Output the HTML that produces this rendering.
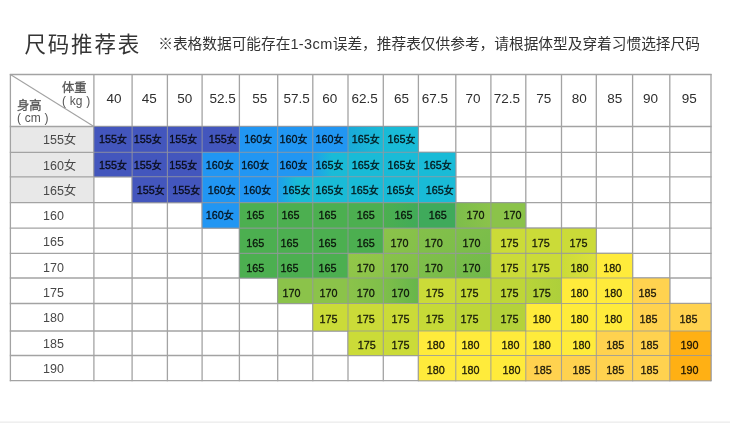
<!DOCTYPE html>
<html lang="zh-CN"><head><meta charset="utf-8"><title>尺码推荐表</title>
<style>
html,body{margin:0;padding:0;background:#fff;}
body{width:730px;height:423px;position:relative;overflow:hidden;font-family:"Liberation Sans","Noto Sans CJK SC",sans-serif;}
.title{position:absolute;left:24.5px;top:27.7px;font-size:21.5px;letter-spacing:1.8px;line-height:34px;color:#353535;white-space:nowrap;}
.sub{position:absolute;left:158.2px;top:32px;font-size:14.7px;line-height:24px;color:#333;white-space:nowrap;}
svg{position:absolute;left:0;top:0;}
.c{position:absolute;text-align:center;font-size:11.6px;transform:scaleX(0.93);color:rgba(0,0,0,.82);-webkit-text-stroke:0.35px rgba(0,0,0,.82);white-space:nowrap;}
.n{font-size:10.7px;}
.h{position:absolute;text-align:center;font-size:13.5px;color:#2e2e2e;white-space:nowrap;}
.r{position:absolute;text-align:left;font-size:12.5px;color:#484848;white-space:nowrap;}
.lab{position:absolute;font-size:12.3px;line-height:13px;color:#555;white-space:nowrap;}
</style></head><body>
<div class="title">尺码推荐表</div>
<div class="sub">※表格数据可能存在<span style="letter-spacing:0.4px;font-size:14.5px">1-3cm</span>误差，推荐表仅供参考，请根据体型及穿着习惯选择尺码</div>

<svg width="730" height="423" viewBox="0 0 730 423"><defs>
<linearGradient id="g0" x1="0" y1="0" x2="0.55" y2="0"><stop offset="0" stop-color="#1e9fec"/><stop offset="1" stop-color="#19bbd7"/></linearGradient>
<linearGradient id="g1" x1="0" y1="0" x2="1" y2="0"><stop offset="0" stop-color="#cbdb38"/><stop offset="1" stop-color="#dce13a"/></linearGradient>
<linearGradient id="g2" x1="0" y1="0" x2="1" y2="0"><stop offset="0" stop-color="#1aa9d8"/><stop offset="1" stop-color="#19bbd7"/></linearGradient>
<linearGradient id="g3" x1="0" y1="0" x2="1" y2="0"><stop offset="0" stop-color="#4caf50"/><stop offset="1" stop-color="#41ab58"/></linearGradient>
<linearGradient id="g4" x1="0" y1="0" x2="1" y2="0"><stop offset="0" stop-color="#7dbd4b"/><stop offset="1" stop-color="#8bc34a"/></linearGradient>
<linearGradient id="g5" x1="0" y1="0" x2="1" y2="1"><stop offset="0" stop-color="#8bc34a"/><stop offset="1" stop-color="#84c04a"/></linearGradient>
<linearGradient id="g6" x1="0" y1="0" x2="1" y2="1"><stop offset="0" stop-color="#84c04a"/><stop offset="1" stop-color="#7dbe4a"/></linearGradient>
<linearGradient id="g7" x1="0" y1="0" x2="1" y2="1"><stop offset="0" stop-color="#80bf4a"/><stop offset="1" stop-color="#78bc4a"/></linearGradient>
<linearGradient id="g8" x1="0" y1="0" x2="1" y2="1"><stop offset="0" stop-color="#93c748"/><stop offset="1" stop-color="#8bc34a"/></linearGradient>
<linearGradient id="g9" x1="0" y1="0" x2="1" y2="1"><stop offset="0" stop-color="#88c24a"/><stop offset="1" stop-color="#80bf4a"/></linearGradient>
<linearGradient id="g10" x1="0" y1="0" x2="1" y2="1"><stop offset="0" stop-color="#7abd4a"/><stop offset="1" stop-color="#70b94b"/></linearGradient>
<linearGradient id="g11" x1="0" y1="0" x2="1" y2="0"><stop offset="0" stop-color="#8bc34a"/><stop offset="1" stop-color="#7fbf4a"/></linearGradient>
<linearGradient id="g12" x1="0" y1="0" x2="1" y2="0"><stop offset="0" stop-color="#7fbf4a"/><stop offset="1" stop-color="#66b64b"/></linearGradient>
<linearGradient id="g13" x1="0" y1="0" x2="1" y2="0"><stop offset="0" stop-color="#b8d439"/><stop offset="1" stop-color="#adcf3b"/></linearGradient>
</defs>
<rect x="0" y="421.4" width="730" height="1.6" fill="#efefef"/>
<rect x="10.4" y="126.5" width="83.5" height="76.1" fill="#e8e8e8"/>
<line x1="10.4" y1="73.9" x2="10.4" y2="381.3" stroke="#a3a3a3" stroke-width="1.3"/>
<line x1="93.9" y1="73.9" x2="93.9" y2="381.3" stroke="#a3a3a3" stroke-width="1.3"/>
<line x1="132.1" y1="73.9" x2="132.1" y2="381.3" stroke="#a3a3a3" stroke-width="1.3"/>
<line x1="167.4" y1="73.9" x2="167.4" y2="381.3" stroke="#a3a3a3" stroke-width="1.3"/>
<line x1="202.1" y1="73.9" x2="202.1" y2="381.3" stroke="#a3a3a3" stroke-width="1.3"/>
<line x1="239.4" y1="73.9" x2="239.4" y2="381.3" stroke="#a3a3a3" stroke-width="1.3"/>
<line x1="277.7" y1="73.9" x2="277.7" y2="381.3" stroke="#a3a3a3" stroke-width="1.3"/>
<line x1="312.8" y1="73.9" x2="312.8" y2="381.3" stroke="#a3a3a3" stroke-width="1.3"/>
<line x1="348" y1="73.9" x2="348" y2="381.3" stroke="#a3a3a3" stroke-width="1.3"/>
<line x1="383.3" y1="73.9" x2="383.3" y2="381.3" stroke="#a3a3a3" stroke-width="1.3"/>
<line x1="418.4" y1="73.9" x2="418.4" y2="381.3" stroke="#a3a3a3" stroke-width="1.3"/>
<line x1="455.8" y1="73.9" x2="455.8" y2="381.3" stroke="#a3a3a3" stroke-width="1.3"/>
<line x1="490.9" y1="73.9" x2="490.9" y2="381.3" stroke="#a3a3a3" stroke-width="1.3"/>
<line x1="525.8" y1="73.9" x2="525.8" y2="381.3" stroke="#a3a3a3" stroke-width="1.3"/>
<line x1="561.5" y1="73.9" x2="561.5" y2="381.3" stroke="#a3a3a3" stroke-width="1.3"/>
<line x1="596.3" y1="73.9" x2="596.3" y2="381.3" stroke="#a3a3a3" stroke-width="1.3"/>
<line x1="632.6" y1="73.9" x2="632.6" y2="381.3" stroke="#a3a3a3" stroke-width="1.3"/>
<line x1="669.8" y1="73.9" x2="669.8" y2="381.3" stroke="#a3a3a3" stroke-width="1.3"/>
<line x1="711" y1="73.9" x2="711" y2="381.3" stroke="#a3a3a3" stroke-width="1.3"/>
<line x1="9.8" y1="74.5" x2="711.6" y2="74.5" stroke="#a3a3a3" stroke-width="1.3"/>
<line x1="9.8" y1="126.5" x2="711.6" y2="126.5" stroke="#a3a3a3" stroke-width="1.3"/>
<line x1="9.8" y1="152.3" x2="711.6" y2="152.3" stroke="#a3a3a3" stroke-width="1.3"/>
<line x1="9.8" y1="176.8" x2="711.6" y2="176.8" stroke="#a3a3a3" stroke-width="1.3"/>
<line x1="9.8" y1="202.6" x2="711.6" y2="202.6" stroke="#a3a3a3" stroke-width="1.3"/>
<line x1="9.8" y1="228.1" x2="711.6" y2="228.1" stroke="#a3a3a3" stroke-width="1.3"/>
<line x1="9.8" y1="253.4" x2="711.6" y2="253.4" stroke="#a3a3a3" stroke-width="1.3"/>
<line x1="9.8" y1="278" x2="711.6" y2="278" stroke="#a3a3a3" stroke-width="1.3"/>
<line x1="9.8" y1="303.5" x2="711.6" y2="303.5" stroke="#a3a3a3" stroke-width="1.3"/>
<line x1="9.8" y1="331" x2="711.6" y2="331" stroke="#a3a3a3" stroke-width="1.3"/>
<line x1="9.8" y1="355.5" x2="711.6" y2="355.5" stroke="#a3a3a3" stroke-width="1.3"/>
<line x1="9.8" y1="380.7" x2="711.6" y2="380.7" stroke="#a3a3a3" stroke-width="1.3"/>
<rect x="93.9" y="126.5" width="38.2" height="25.8" fill="#4356bd"/>
<rect x="132.1" y="126.5" width="35.3" height="25.8" fill="#4356bd"/>
<rect x="167.4" y="126.5" width="34.7" height="25.8" fill="#4356bd"/>
<rect x="202.1" y="126.5" width="37.3" height="25.8" fill="#4356bd"/>
<rect x="239.4" y="126.5" width="38.3" height="25.8" fill="#2196f3"/>
<rect x="277.7" y="126.5" width="35.1" height="25.8" fill="#2196f3"/>
<rect x="312.8" y="126.5" width="35.2" height="25.8" fill="#2196f3"/>
<rect x="348" y="126.5" width="35.3" height="25.8" fill="url(#g2)"/>
<rect x="383.3" y="126.5" width="35.1" height="25.8" fill="#19bbd7"/>
<rect x="93.9" y="152.3" width="38.2" height="24.5" fill="#4356bd"/>
<rect x="132.1" y="152.3" width="35.3" height="24.5" fill="#4356bd"/>
<rect x="167.4" y="152.3" width="34.7" height="24.5" fill="#4356bd"/>
<rect x="202.1" y="152.3" width="37.3" height="24.5" fill="#2196f3"/>
<rect x="239.4" y="152.3" width="38.3" height="24.5" fill="#2196f3"/>
<rect x="277.7" y="152.3" width="35.1" height="24.5" fill="#2196f3"/>
<rect x="312.8" y="152.3" width="35.2" height="24.5" fill="url(#g0)"/>
<rect x="348" y="152.3" width="35.3" height="24.5" fill="#19bbd7"/>
<rect x="383.3" y="152.3" width="35.1" height="24.5" fill="#19bbd7"/>
<rect x="418.4" y="152.3" width="37.4" height="24.5" fill="#19bbd7"/>
<rect x="132.1" y="176.8" width="35.3" height="25.8" fill="#4356bd"/>
<rect x="167.4" y="176.8" width="34.7" height="25.8" fill="#4356bd"/>
<rect x="202.1" y="176.8" width="37.3" height="25.8" fill="#2196f3"/>
<rect x="239.4" y="176.8" width="38.3" height="25.8" fill="#2196f3"/>
<rect x="277.7" y="176.8" width="35.1" height="25.8" fill="url(#g0)"/>
<rect x="312.8" y="176.8" width="35.2" height="25.8" fill="#19bbd7"/>
<rect x="348" y="176.8" width="35.3" height="25.8" fill="#19bbd7"/>
<rect x="383.3" y="176.8" width="35.1" height="25.8" fill="#19bbd7"/>
<rect x="418.4" y="176.8" width="37.4" height="25.8" fill="#19bbd7"/>
<rect x="202.1" y="202.6" width="37.3" height="25.5" fill="#2196f3"/>
<rect x="239.4" y="202.6" width="38.3" height="25.5" fill="#4caf50"/>
<rect x="277.7" y="202.6" width="35.1" height="25.5" fill="#4caf50"/>
<rect x="312.8" y="202.6" width="35.2" height="25.5" fill="#4caf50"/>
<rect x="348" y="202.6" width="35.3" height="25.5" fill="#4caf50"/>
<rect x="383.3" y="202.6" width="35.1" height="25.5" fill="url(#g3)"/>
<rect x="418.4" y="202.6" width="37.4" height="25.5" fill="#3faa5b"/>
<rect x="455.8" y="202.6" width="35.1" height="25.5" fill="url(#g4)"/>
<rect x="490.9" y="202.6" width="34.9" height="25.5" fill="#8bc34a"/>
<rect x="239.4" y="228.1" width="38.3" height="25.3" fill="#4caf50"/>
<rect x="277.7" y="228.1" width="35.1" height="25.3" fill="#4caf50"/>
<rect x="312.8" y="228.1" width="35.2" height="25.3" fill="#4caf50"/>
<rect x="348" y="228.1" width="35.3" height="25.3" fill="#4caf50"/>
<rect x="383.3" y="228.1" width="35.1" height="25.3" fill="url(#g5)"/>
<rect x="418.4" y="228.1" width="37.4" height="25.3" fill="url(#g6)"/>
<rect x="455.8" y="228.1" width="35.1" height="25.3" fill="url(#g7)"/>
<rect x="490.9" y="228.1" width="34.9" height="25.3" fill="#cbdb38"/>
<rect x="525.8" y="228.1" width="35.7" height="25.3" fill="#cbdb38"/>
<rect x="561.5" y="228.1" width="34.8" height="25.3" fill="#cbdb38"/>
<rect x="239.4" y="253.4" width="38.3" height="24.6" fill="#4caf50"/>
<rect x="277.7" y="253.4" width="35.1" height="24.6" fill="#4caf50"/>
<rect x="312.8" y="253.4" width="35.2" height="24.6" fill="#4caf50"/>
<rect x="348" y="253.4" width="35.3" height="24.6" fill="url(#g8)"/>
<rect x="383.3" y="253.4" width="35.1" height="24.6" fill="url(#g9)"/>
<rect x="418.4" y="253.4" width="37.4" height="24.6" fill="url(#g7)"/>
<rect x="455.8" y="253.4" width="35.1" height="24.6" fill="url(#g10)"/>
<rect x="490.9" y="253.4" width="34.9" height="24.6" fill="#cbdb38"/>
<rect x="525.8" y="253.4" width="35.7" height="24.6" fill="#cbdb38"/>
<rect x="561.5" y="253.4" width="34.8" height="24.6" fill="url(#g1)"/>
<rect x="596.3" y="253.4" width="36.3" height="24.6" fill="#ffeb3b"/>
<rect x="277.7" y="278" width="35.1" height="25.5" fill="#8bc34a"/>
<rect x="312.8" y="278" width="35.2" height="25.5" fill="#8bc34a"/>
<rect x="348" y="278" width="35.3" height="25.5" fill="url(#g11)"/>
<rect x="383.3" y="278" width="35.1" height="25.5" fill="url(#g12)"/>
<rect x="418.4" y="278" width="37.4" height="25.5" fill="#cbdb38"/>
<rect x="455.8" y="278" width="35.1" height="25.5" fill="#c5d937"/>
<rect x="490.9" y="278" width="34.9" height="25.5" fill="#bed638"/>
<rect x="525.8" y="278" width="35.7" height="25.5" fill="url(#g13)"/>
<rect x="561.5" y="278" width="34.8" height="25.5" fill="#ffeb3b"/>
<rect x="596.3" y="278" width="36.3" height="25.5" fill="#ffeb3b"/>
<rect x="632.6" y="278" width="37.2" height="25.5" fill="#ffd24f"/>
<rect x="312.8" y="303.5" width="35.2" height="27.5" fill="#cbdb38"/>
<rect x="348" y="303.5" width="35.3" height="27.5" fill="#cbdb38"/>
<rect x="383.3" y="303.5" width="35.1" height="27.5" fill="#cbdb38"/>
<rect x="418.4" y="303.5" width="37.4" height="27.5" fill="#c6da37"/>
<rect x="455.8" y="303.5" width="35.1" height="27.5" fill="#bed638"/>
<rect x="490.9" y="303.5" width="34.9" height="27.5" fill="#b4d23a"/>
<rect x="525.8" y="303.5" width="35.7" height="27.5" fill="#ffeb3b"/>
<rect x="561.5" y="303.5" width="34.8" height="27.5" fill="#ffeb3b"/>
<rect x="596.3" y="303.5" width="36.3" height="27.5" fill="#ffeb3b"/>
<rect x="632.6" y="303.5" width="37.2" height="27.5" fill="#ffd24f"/>
<rect x="669.8" y="303.5" width="41.2" height="27.5" fill="#ffd24f"/>
<rect x="348" y="331" width="35.3" height="24.5" fill="#cbdb38"/>
<rect x="383.3" y="331" width="35.1" height="24.5" fill="#cbdb38"/>
<rect x="418.4" y="331" width="37.4" height="24.5" fill="#ffeb3b"/>
<rect x="455.8" y="331" width="35.1" height="24.5" fill="#ffeb3b"/>
<rect x="490.9" y="331" width="34.9" height="24.5" fill="#ffeb3b"/>
<rect x="525.8" y="331" width="35.7" height="24.5" fill="#ffeb3b"/>
<rect x="561.5" y="331" width="34.8" height="24.5" fill="#ffeb3b"/>
<rect x="596.3" y="331" width="36.3" height="24.5" fill="#ffd24f"/>
<rect x="632.6" y="331" width="37.2" height="24.5" fill="#ffd24f"/>
<rect x="669.8" y="331" width="41.2" height="24.5" fill="#ffb014"/>
<rect x="418.4" y="355.5" width="37.4" height="25.2" fill="#ffeb3b"/>
<rect x="455.8" y="355.5" width="35.1" height="25.2" fill="#ffeb3b"/>
<rect x="490.9" y="355.5" width="34.9" height="25.2" fill="#ffeb3b"/>
<rect x="525.8" y="355.5" width="35.7" height="25.2" fill="#ffd24f"/>
<rect x="561.5" y="355.5" width="34.8" height="25.2" fill="#ffd24f"/>
<rect x="596.3" y="355.5" width="36.3" height="25.2" fill="#ffd24f"/>
<rect x="632.6" y="355.5" width="37.2" height="25.2" fill="#ffd24f"/>
<rect x="669.8" y="355.5" width="41.2" height="25.2" fill="#ffb014"/>
<line x1="10.4" y1="74.5" x2="93.9" y2="126.5" stroke="#a3a3a3" stroke-width="1.1"/>
<line x1="93.9" y1="126.5" x2="93.9" y2="152.3" stroke="rgba(148,150,158,0.75)" stroke-width="1.1"/>
<line x1="93.9" y1="126.5" x2="132.1" y2="126.5" stroke="rgba(148,150,158,0.75)" stroke-width="1.1"/>
<line x1="93.9" y1="152.3" x2="93.9" y2="176.8" stroke="rgba(148,150,158,0.75)" stroke-width="1.1"/>
<line x1="93.9" y1="152.3" x2="132.1" y2="152.3" stroke="rgba(148,150,158,0.75)" stroke-width="1.1"/>
<line x1="93.9" y1="176.8" x2="132.1" y2="176.8" stroke="rgba(148,150,158,0.75)" stroke-width="1.1"/>
<line x1="132.1" y1="126.5" x2="132.1" y2="152.3" stroke="rgba(148,150,158,0.75)" stroke-width="1.1"/>
<line x1="132.1" y1="126.5" x2="167.4" y2="126.5" stroke="rgba(148,150,158,0.75)" stroke-width="1.1"/>
<line x1="132.1" y1="152.3" x2="132.1" y2="176.8" stroke="rgba(148,150,158,0.75)" stroke-width="1.1"/>
<line x1="132.1" y1="152.3" x2="167.4" y2="152.3" stroke="rgba(148,150,158,0.75)" stroke-width="1.1"/>
<line x1="132.1" y1="176.8" x2="132.1" y2="202.6" stroke="rgba(148,150,158,0.75)" stroke-width="1.1"/>
<line x1="132.1" y1="176.8" x2="167.4" y2="176.8" stroke="rgba(148,150,158,0.75)" stroke-width="1.1"/>
<line x1="132.1" y1="202.6" x2="167.4" y2="202.6" stroke="rgba(148,150,158,0.75)" stroke-width="1.1"/>
<line x1="167.4" y1="126.5" x2="167.4" y2="152.3" stroke="rgba(148,150,158,0.75)" stroke-width="1.1"/>
<line x1="167.4" y1="126.5" x2="202.1" y2="126.5" stroke="rgba(148,150,158,0.75)" stroke-width="1.1"/>
<line x1="167.4" y1="152.3" x2="167.4" y2="176.8" stroke="rgba(148,150,158,0.75)" stroke-width="1.1"/>
<line x1="167.4" y1="152.3" x2="202.1" y2="152.3" stroke="rgba(148,150,158,0.75)" stroke-width="1.1"/>
<line x1="167.4" y1="176.8" x2="167.4" y2="202.6" stroke="rgba(148,150,158,0.75)" stroke-width="1.1"/>
<line x1="167.4" y1="176.8" x2="202.1" y2="176.8" stroke="rgba(148,150,158,0.75)" stroke-width="1.1"/>
<line x1="167.4" y1="202.6" x2="202.1" y2="202.6" stroke="rgba(148,150,158,0.75)" stroke-width="1.1"/>
<line x1="202.1" y1="126.5" x2="202.1" y2="152.3" stroke="rgba(148,150,158,0.75)" stroke-width="1.1"/>
<line x1="202.1" y1="126.5" x2="239.4" y2="126.5" stroke="rgba(148,150,158,0.75)" stroke-width="1.1"/>
<line x1="202.1" y1="152.3" x2="202.1" y2="176.8" stroke="rgba(148,150,158,0.75)" stroke-width="1.1"/>
<line x1="202.1" y1="152.3" x2="239.4" y2="152.3" stroke="rgba(148,150,158,0.75)" stroke-width="1.1"/>
<line x1="202.1" y1="176.8" x2="202.1" y2="202.6" stroke="rgba(148,150,158,0.75)" stroke-width="1.1"/>
<line x1="202.1" y1="176.8" x2="239.4" y2="176.8" stroke="rgba(148,150,158,0.75)" stroke-width="1.1"/>
<line x1="202.1" y1="202.6" x2="202.1" y2="228.1" stroke="rgba(148,150,158,0.75)" stroke-width="1.1"/>
<line x1="202.1" y1="202.6" x2="239.4" y2="202.6" stroke="rgba(148,150,158,0.75)" stroke-width="1.1"/>
<line x1="202.1" y1="228.1" x2="239.4" y2="228.1" stroke="rgba(148,150,158,0.75)" stroke-width="1.1"/>
<line x1="239.4" y1="126.5" x2="239.4" y2="152.3" stroke="rgba(148,150,158,0.75)" stroke-width="1.1"/>
<line x1="239.4" y1="126.5" x2="277.7" y2="126.5" stroke="rgba(148,150,158,0.75)" stroke-width="1.1"/>
<line x1="239.4" y1="152.3" x2="239.4" y2="176.8" stroke="rgba(148,150,158,0.75)" stroke-width="1.1"/>
<line x1="239.4" y1="152.3" x2="277.7" y2="152.3" stroke="rgba(148,150,158,0.75)" stroke-width="1.1"/>
<line x1="239.4" y1="176.8" x2="239.4" y2="202.6" stroke="rgba(148,150,158,0.75)" stroke-width="1.1"/>
<line x1="239.4" y1="176.8" x2="277.7" y2="176.8" stroke="rgba(148,150,158,0.75)" stroke-width="1.1"/>
<line x1="239.4" y1="202.6" x2="239.4" y2="228.1" stroke="rgba(148,150,158,0.75)" stroke-width="1.1"/>
<line x1="239.4" y1="202.6" x2="277.7" y2="202.6" stroke="rgba(148,150,158,0.75)" stroke-width="1.1"/>
<line x1="239.4" y1="228.1" x2="239.4" y2="253.4" stroke="rgba(148,150,158,0.75)" stroke-width="1.1"/>
<line x1="239.4" y1="228.1" x2="277.7" y2="228.1" stroke="rgba(148,150,158,0.75)" stroke-width="1.1"/>
<line x1="239.4" y1="253.4" x2="239.4" y2="278" stroke="rgba(148,150,158,0.75)" stroke-width="1.1"/>
<line x1="239.4" y1="253.4" x2="277.7" y2="253.4" stroke="rgba(148,150,158,0.75)" stroke-width="1.1"/>
<line x1="239.4" y1="278" x2="277.7" y2="278" stroke="rgba(148,150,158,0.75)" stroke-width="1.1"/>
<line x1="277.7" y1="126.5" x2="277.7" y2="152.3" stroke="rgba(148,150,158,0.75)" stroke-width="1.1"/>
<line x1="277.7" y1="126.5" x2="312.8" y2="126.5" stroke="rgba(148,150,158,0.75)" stroke-width="1.1"/>
<line x1="277.7" y1="152.3" x2="277.7" y2="176.8" stroke="rgba(148,150,158,0.75)" stroke-width="1.1"/>
<line x1="277.7" y1="152.3" x2="312.8" y2="152.3" stroke="rgba(148,150,158,0.75)" stroke-width="1.1"/>
<line x1="277.7" y1="176.8" x2="277.7" y2="202.6" stroke="rgba(148,150,158,0.75)" stroke-width="1.1"/>
<line x1="277.7" y1="176.8" x2="312.8" y2="176.8" stroke="rgba(148,150,158,0.75)" stroke-width="1.1"/>
<line x1="277.7" y1="202.6" x2="277.7" y2="228.1" stroke="rgba(148,150,158,0.75)" stroke-width="1.1"/>
<line x1="277.7" y1="202.6" x2="312.8" y2="202.6" stroke="rgba(148,150,158,0.75)" stroke-width="1.1"/>
<line x1="277.7" y1="228.1" x2="277.7" y2="253.4" stroke="rgba(148,150,158,0.75)" stroke-width="1.1"/>
<line x1="277.7" y1="228.1" x2="312.8" y2="228.1" stroke="rgba(148,150,158,0.75)" stroke-width="1.1"/>
<line x1="277.7" y1="253.4" x2="277.7" y2="278" stroke="rgba(148,150,158,0.75)" stroke-width="1.1"/>
<line x1="277.7" y1="253.4" x2="312.8" y2="253.4" stroke="rgba(148,150,158,0.75)" stroke-width="1.1"/>
<line x1="277.7" y1="278" x2="277.7" y2="303.5" stroke="rgba(148,150,158,0.75)" stroke-width="1.1"/>
<line x1="277.7" y1="278" x2="312.8" y2="278" stroke="rgba(148,150,158,0.75)" stroke-width="1.1"/>
<line x1="277.7" y1="303.5" x2="312.8" y2="303.5" stroke="rgba(148,150,158,0.75)" stroke-width="1.1"/>
<line x1="312.8" y1="126.5" x2="312.8" y2="152.3" stroke="rgba(148,150,158,0.75)" stroke-width="1.1"/>
<line x1="312.8" y1="126.5" x2="348" y2="126.5" stroke="rgba(148,150,158,0.75)" stroke-width="1.1"/>
<line x1="312.8" y1="152.3" x2="312.8" y2="176.8" stroke="rgba(148,150,158,0.75)" stroke-width="1.1"/>
<line x1="312.8" y1="152.3" x2="348" y2="152.3" stroke="rgba(148,150,158,0.75)" stroke-width="1.1"/>
<line x1="312.8" y1="176.8" x2="312.8" y2="202.6" stroke="rgba(148,150,158,0.75)" stroke-width="1.1"/>
<line x1="312.8" y1="176.8" x2="348" y2="176.8" stroke="rgba(148,150,158,0.75)" stroke-width="1.1"/>
<line x1="312.8" y1="202.6" x2="312.8" y2="228.1" stroke="rgba(148,150,158,0.75)" stroke-width="1.1"/>
<line x1="312.8" y1="202.6" x2="348" y2="202.6" stroke="rgba(148,150,158,0.75)" stroke-width="1.1"/>
<line x1="312.8" y1="228.1" x2="312.8" y2="253.4" stroke="rgba(148,150,158,0.75)" stroke-width="1.1"/>
<line x1="312.8" y1="228.1" x2="348" y2="228.1" stroke="rgba(148,150,158,0.75)" stroke-width="1.1"/>
<line x1="312.8" y1="253.4" x2="312.8" y2="278" stroke="rgba(148,150,158,0.75)" stroke-width="1.1"/>
<line x1="312.8" y1="253.4" x2="348" y2="253.4" stroke="rgba(148,150,158,0.75)" stroke-width="1.1"/>
<line x1="312.8" y1="278" x2="312.8" y2="303.5" stroke="rgba(148,150,158,0.75)" stroke-width="1.1"/>
<line x1="312.8" y1="278" x2="348" y2="278" stroke="rgba(148,150,158,0.75)" stroke-width="1.1"/>
<line x1="312.8" y1="303.5" x2="312.8" y2="331" stroke="rgba(148,150,158,0.75)" stroke-width="1.1"/>
<line x1="312.8" y1="303.5" x2="348" y2="303.5" stroke="rgba(148,150,158,0.75)" stroke-width="1.1"/>
<line x1="312.8" y1="331" x2="348" y2="331" stroke="rgba(148,150,158,0.75)" stroke-width="1.1"/>
<line x1="348" y1="126.5" x2="348" y2="152.3" stroke="rgba(148,150,158,0.75)" stroke-width="1.1"/>
<line x1="348" y1="126.5" x2="383.3" y2="126.5" stroke="rgba(148,150,158,0.75)" stroke-width="1.1"/>
<line x1="348" y1="152.3" x2="348" y2="176.8" stroke="rgba(148,150,158,0.75)" stroke-width="1.1"/>
<line x1="348" y1="152.3" x2="383.3" y2="152.3" stroke="rgba(148,150,158,0.75)" stroke-width="1.1"/>
<line x1="348" y1="176.8" x2="348" y2="202.6" stroke="rgba(148,150,158,0.75)" stroke-width="1.1"/>
<line x1="348" y1="176.8" x2="383.3" y2="176.8" stroke="rgba(148,150,158,0.75)" stroke-width="1.1"/>
<line x1="348" y1="202.6" x2="348" y2="228.1" stroke="rgba(148,150,158,0.75)" stroke-width="1.1"/>
<line x1="348" y1="202.6" x2="383.3" y2="202.6" stroke="rgba(148,150,158,0.75)" stroke-width="1.1"/>
<line x1="348" y1="228.1" x2="348" y2="253.4" stroke="rgba(148,150,158,0.75)" stroke-width="1.1"/>
<line x1="348" y1="228.1" x2="383.3" y2="228.1" stroke="rgba(148,150,158,0.75)" stroke-width="1.1"/>
<line x1="348" y1="253.4" x2="348" y2="278" stroke="rgba(148,150,158,0.75)" stroke-width="1.1"/>
<line x1="348" y1="253.4" x2="383.3" y2="253.4" stroke="rgba(148,150,158,0.75)" stroke-width="1.1"/>
<line x1="348" y1="278" x2="348" y2="303.5" stroke="rgba(148,150,158,0.75)" stroke-width="1.1"/>
<line x1="348" y1="278" x2="383.3" y2="278" stroke="rgba(148,150,158,0.75)" stroke-width="1.1"/>
<line x1="348" y1="303.5" x2="348" y2="331" stroke="rgba(148,150,158,0.75)" stroke-width="1.1"/>
<line x1="348" y1="303.5" x2="383.3" y2="303.5" stroke="rgba(148,150,158,0.75)" stroke-width="1.1"/>
<line x1="348" y1="331" x2="348" y2="355.5" stroke="rgba(148,150,158,0.75)" stroke-width="1.1"/>
<line x1="348" y1="331" x2="383.3" y2="331" stroke="rgba(148,150,158,0.75)" stroke-width="1.1"/>
<line x1="348" y1="355.5" x2="383.3" y2="355.5" stroke="rgba(148,150,158,0.75)" stroke-width="1.1"/>
<line x1="383.3" y1="126.5" x2="383.3" y2="152.3" stroke="rgba(148,150,158,0.75)" stroke-width="1.1"/>
<line x1="383.3" y1="126.5" x2="418.4" y2="126.5" stroke="rgba(148,150,158,0.75)" stroke-width="1.1"/>
<line x1="383.3" y1="152.3" x2="383.3" y2="176.8" stroke="rgba(148,150,158,0.75)" stroke-width="1.1"/>
<line x1="383.3" y1="152.3" x2="418.4" y2="152.3" stroke="rgba(148,150,158,0.75)" stroke-width="1.1"/>
<line x1="383.3" y1="176.8" x2="383.3" y2="202.6" stroke="rgba(148,150,158,0.75)" stroke-width="1.1"/>
<line x1="383.3" y1="176.8" x2="418.4" y2="176.8" stroke="rgba(148,150,158,0.75)" stroke-width="1.1"/>
<line x1="383.3" y1="202.6" x2="383.3" y2="228.1" stroke="rgba(148,150,158,0.75)" stroke-width="1.1"/>
<line x1="383.3" y1="202.6" x2="418.4" y2="202.6" stroke="rgba(148,150,158,0.75)" stroke-width="1.1"/>
<line x1="383.3" y1="228.1" x2="383.3" y2="253.4" stroke="rgba(148,150,158,0.75)" stroke-width="1.1"/>
<line x1="383.3" y1="228.1" x2="418.4" y2="228.1" stroke="rgba(148,150,158,0.75)" stroke-width="1.1"/>
<line x1="383.3" y1="253.4" x2="383.3" y2="278" stroke="rgba(148,150,158,0.75)" stroke-width="1.1"/>
<line x1="383.3" y1="253.4" x2="418.4" y2="253.4" stroke="rgba(148,150,158,0.75)" stroke-width="1.1"/>
<line x1="383.3" y1="278" x2="383.3" y2="303.5" stroke="rgba(148,150,158,0.75)" stroke-width="1.1"/>
<line x1="383.3" y1="278" x2="418.4" y2="278" stroke="rgba(148,150,158,0.75)" stroke-width="1.1"/>
<line x1="383.3" y1="303.5" x2="383.3" y2="331" stroke="rgba(148,150,158,0.75)" stroke-width="1.1"/>
<line x1="383.3" y1="303.5" x2="418.4" y2="303.5" stroke="rgba(148,150,158,0.75)" stroke-width="1.1"/>
<line x1="383.3" y1="331" x2="383.3" y2="355.5" stroke="rgba(148,150,158,0.75)" stroke-width="1.1"/>
<line x1="383.3" y1="331" x2="418.4" y2="331" stroke="rgba(148,150,158,0.75)" stroke-width="1.1"/>
<line x1="383.3" y1="355.5" x2="418.4" y2="355.5" stroke="rgba(148,150,158,0.75)" stroke-width="1.1"/>
<line x1="418.4" y1="126.5" x2="418.4" y2="152.3" stroke="rgba(148,150,158,0.75)" stroke-width="1.1"/>
<line x1="418.4" y1="152.3" x2="418.4" y2="176.8" stroke="rgba(148,150,158,0.75)" stroke-width="1.1"/>
<line x1="418.4" y1="152.3" x2="455.8" y2="152.3" stroke="rgba(148,150,158,0.75)" stroke-width="1.1"/>
<line x1="418.4" y1="176.8" x2="418.4" y2="202.6" stroke="rgba(148,150,158,0.75)" stroke-width="1.1"/>
<line x1="418.4" y1="176.8" x2="455.8" y2="176.8" stroke="rgba(148,150,158,0.75)" stroke-width="1.1"/>
<line x1="418.4" y1="202.6" x2="418.4" y2="228.1" stroke="rgba(148,150,158,0.75)" stroke-width="1.1"/>
<line x1="418.4" y1="202.6" x2="455.8" y2="202.6" stroke="rgba(148,150,158,0.75)" stroke-width="1.1"/>
<line x1="418.4" y1="228.1" x2="418.4" y2="253.4" stroke="rgba(148,150,158,0.75)" stroke-width="1.1"/>
<line x1="418.4" y1="228.1" x2="455.8" y2="228.1" stroke="rgba(148,150,158,0.75)" stroke-width="1.1"/>
<line x1="418.4" y1="253.4" x2="418.4" y2="278" stroke="rgba(148,150,158,0.75)" stroke-width="1.1"/>
<line x1="418.4" y1="253.4" x2="455.8" y2="253.4" stroke="rgba(148,150,158,0.75)" stroke-width="1.1"/>
<line x1="418.4" y1="278" x2="418.4" y2="303.5" stroke="rgba(148,150,158,0.75)" stroke-width="1.1"/>
<line x1="418.4" y1="278" x2="455.8" y2="278" stroke="rgba(148,150,158,0.75)" stroke-width="1.1"/>
<line x1="418.4" y1="303.5" x2="418.4" y2="331" stroke="rgba(148,150,158,0.75)" stroke-width="1.1"/>
<line x1="418.4" y1="303.5" x2="455.8" y2="303.5" stroke="rgba(148,150,158,0.75)" stroke-width="1.1"/>
<line x1="418.4" y1="331" x2="418.4" y2="355.5" stroke="rgba(148,150,158,0.75)" stroke-width="1.1"/>
<line x1="418.4" y1="331" x2="455.8" y2="331" stroke="rgba(148,150,158,0.75)" stroke-width="1.1"/>
<line x1="418.4" y1="355.5" x2="418.4" y2="380.7" stroke="rgba(148,150,158,0.75)" stroke-width="1.1"/>
<line x1="418.4" y1="355.5" x2="455.8" y2="355.5" stroke="rgba(148,150,158,0.75)" stroke-width="1.1"/>
<line x1="418.4" y1="380.7" x2="455.8" y2="380.7" stroke="rgba(148,150,158,0.75)" stroke-width="1.1"/>
<line x1="455.8" y1="152.3" x2="455.8" y2="176.8" stroke="rgba(148,150,158,0.75)" stroke-width="1.1"/>
<line x1="455.8" y1="176.8" x2="455.8" y2="202.6" stroke="rgba(148,150,158,0.75)" stroke-width="1.1"/>
<line x1="455.8" y1="202.6" x2="455.8" y2="228.1" stroke="rgba(148,150,158,0.75)" stroke-width="1.1"/>
<line x1="455.8" y1="202.6" x2="490.9" y2="202.6" stroke="rgba(148,150,158,0.75)" stroke-width="1.1"/>
<line x1="455.8" y1="228.1" x2="455.8" y2="253.4" stroke="rgba(148,150,158,0.75)" stroke-width="1.1"/>
<line x1="455.8" y1="228.1" x2="490.9" y2="228.1" stroke="rgba(148,150,158,0.75)" stroke-width="1.1"/>
<line x1="455.8" y1="253.4" x2="455.8" y2="278" stroke="rgba(148,150,158,0.75)" stroke-width="1.1"/>
<line x1="455.8" y1="253.4" x2="490.9" y2="253.4" stroke="rgba(148,150,158,0.75)" stroke-width="1.1"/>
<line x1="455.8" y1="278" x2="455.8" y2="303.5" stroke="rgba(148,150,158,0.75)" stroke-width="1.1"/>
<line x1="455.8" y1="278" x2="490.9" y2="278" stroke="rgba(148,150,158,0.75)" stroke-width="1.1"/>
<line x1="455.8" y1="303.5" x2="455.8" y2="331" stroke="rgba(148,150,158,0.75)" stroke-width="1.1"/>
<line x1="455.8" y1="303.5" x2="490.9" y2="303.5" stroke="rgba(148,150,158,0.75)" stroke-width="1.1"/>
<line x1="455.8" y1="331" x2="455.8" y2="355.5" stroke="rgba(148,150,158,0.75)" stroke-width="1.1"/>
<line x1="455.8" y1="331" x2="490.9" y2="331" stroke="rgba(148,150,158,0.75)" stroke-width="1.1"/>
<line x1="455.8" y1="355.5" x2="455.8" y2="380.7" stroke="rgba(148,150,158,0.75)" stroke-width="1.1"/>
<line x1="455.8" y1="355.5" x2="490.9" y2="355.5" stroke="rgba(148,150,158,0.75)" stroke-width="1.1"/>
<line x1="455.8" y1="380.7" x2="490.9" y2="380.7" stroke="rgba(148,150,158,0.75)" stroke-width="1.1"/>
<line x1="490.9" y1="202.6" x2="490.9" y2="228.1" stroke="rgba(148,150,158,0.75)" stroke-width="1.1"/>
<line x1="490.9" y1="202.6" x2="525.8" y2="202.6" stroke="rgba(148,150,158,0.75)" stroke-width="1.1"/>
<line x1="490.9" y1="228.1" x2="490.9" y2="253.4" stroke="rgba(148,150,158,0.75)" stroke-width="1.1"/>
<line x1="490.9" y1="228.1" x2="525.8" y2="228.1" stroke="rgba(148,150,158,0.75)" stroke-width="1.1"/>
<line x1="490.9" y1="253.4" x2="490.9" y2="278" stroke="rgba(148,150,158,0.75)" stroke-width="1.1"/>
<line x1="490.9" y1="253.4" x2="525.8" y2="253.4" stroke="rgba(148,150,158,0.75)" stroke-width="1.1"/>
<line x1="490.9" y1="278" x2="490.9" y2="303.5" stroke="rgba(148,150,158,0.75)" stroke-width="1.1"/>
<line x1="490.9" y1="278" x2="525.8" y2="278" stroke="rgba(148,150,158,0.75)" stroke-width="1.1"/>
<line x1="490.9" y1="303.5" x2="490.9" y2="331" stroke="rgba(148,150,158,0.75)" stroke-width="1.1"/>
<line x1="490.9" y1="303.5" x2="525.8" y2="303.5" stroke="rgba(148,150,158,0.75)" stroke-width="1.1"/>
<line x1="490.9" y1="331" x2="490.9" y2="355.5" stroke="rgba(148,150,158,0.75)" stroke-width="1.1"/>
<line x1="490.9" y1="331" x2="525.8" y2="331" stroke="rgba(148,150,158,0.75)" stroke-width="1.1"/>
<line x1="490.9" y1="355.5" x2="490.9" y2="380.7" stroke="rgba(148,150,158,0.75)" stroke-width="1.1"/>
<line x1="490.9" y1="355.5" x2="525.8" y2="355.5" stroke="rgba(148,150,158,0.75)" stroke-width="1.1"/>
<line x1="490.9" y1="380.7" x2="525.8" y2="380.7" stroke="rgba(148,150,158,0.75)" stroke-width="1.1"/>
<line x1="525.8" y1="202.6" x2="525.8" y2="228.1" stroke="rgba(148,150,158,0.75)" stroke-width="1.1"/>
<line x1="525.8" y1="228.1" x2="525.8" y2="253.4" stroke="rgba(148,150,158,0.75)" stroke-width="1.1"/>
<line x1="525.8" y1="228.1" x2="561.5" y2="228.1" stroke="rgba(148,150,158,0.75)" stroke-width="1.1"/>
<line x1="525.8" y1="253.4" x2="525.8" y2="278" stroke="rgba(148,150,158,0.75)" stroke-width="1.1"/>
<line x1="525.8" y1="253.4" x2="561.5" y2="253.4" stroke="rgba(148,150,158,0.75)" stroke-width="1.1"/>
<line x1="525.8" y1="278" x2="525.8" y2="303.5" stroke="rgba(148,150,158,0.75)" stroke-width="1.1"/>
<line x1="525.8" y1="278" x2="561.5" y2="278" stroke="rgba(148,150,158,0.75)" stroke-width="1.1"/>
<line x1="525.8" y1="303.5" x2="525.8" y2="331" stroke="rgba(148,150,158,0.75)" stroke-width="1.1"/>
<line x1="525.8" y1="303.5" x2="561.5" y2="303.5" stroke="rgba(148,150,158,0.75)" stroke-width="1.1"/>
<line x1="525.8" y1="331" x2="525.8" y2="355.5" stroke="rgba(148,150,158,0.75)" stroke-width="1.1"/>
<line x1="525.8" y1="331" x2="561.5" y2="331" stroke="rgba(148,150,158,0.75)" stroke-width="1.1"/>
<line x1="525.8" y1="355.5" x2="525.8" y2="380.7" stroke="rgba(148,150,158,0.75)" stroke-width="1.1"/>
<line x1="525.8" y1="355.5" x2="561.5" y2="355.5" stroke="rgba(148,150,158,0.75)" stroke-width="1.1"/>
<line x1="525.8" y1="380.7" x2="561.5" y2="380.7" stroke="rgba(148,150,158,0.75)" stroke-width="1.1"/>
<line x1="561.5" y1="228.1" x2="561.5" y2="253.4" stroke="rgba(148,150,158,0.75)" stroke-width="1.1"/>
<line x1="561.5" y1="228.1" x2="596.3" y2="228.1" stroke="rgba(148,150,158,0.75)" stroke-width="1.1"/>
<line x1="561.5" y1="253.4" x2="561.5" y2="278" stroke="rgba(148,150,158,0.75)" stroke-width="1.1"/>
<line x1="561.5" y1="253.4" x2="596.3" y2="253.4" stroke="rgba(148,150,158,0.75)" stroke-width="1.1"/>
<line x1="561.5" y1="278" x2="561.5" y2="303.5" stroke="rgba(148,150,158,0.75)" stroke-width="1.1"/>
<line x1="561.5" y1="278" x2="596.3" y2="278" stroke="rgba(148,150,158,0.75)" stroke-width="1.1"/>
<line x1="561.5" y1="303.5" x2="561.5" y2="331" stroke="rgba(148,150,158,0.75)" stroke-width="1.1"/>
<line x1="561.5" y1="303.5" x2="596.3" y2="303.5" stroke="rgba(148,150,158,0.75)" stroke-width="1.1"/>
<line x1="561.5" y1="331" x2="561.5" y2="355.5" stroke="rgba(148,150,158,0.75)" stroke-width="1.1"/>
<line x1="561.5" y1="331" x2="596.3" y2="331" stroke="rgba(148,150,158,0.75)" stroke-width="1.1"/>
<line x1="561.5" y1="355.5" x2="561.5" y2="380.7" stroke="rgba(148,150,158,0.75)" stroke-width="1.1"/>
<line x1="561.5" y1="355.5" x2="596.3" y2="355.5" stroke="rgba(148,150,158,0.75)" stroke-width="1.1"/>
<line x1="561.5" y1="380.7" x2="596.3" y2="380.7" stroke="rgba(148,150,158,0.75)" stroke-width="1.1"/>
<line x1="596.3" y1="228.1" x2="596.3" y2="253.4" stroke="rgba(148,150,158,0.75)" stroke-width="1.1"/>
<line x1="596.3" y1="253.4" x2="596.3" y2="278" stroke="rgba(148,150,158,0.75)" stroke-width="1.1"/>
<line x1="596.3" y1="253.4" x2="632.6" y2="253.4" stroke="rgba(148,150,158,0.75)" stroke-width="1.1"/>
<line x1="596.3" y1="278" x2="596.3" y2="303.5" stroke="rgba(148,150,158,0.75)" stroke-width="1.1"/>
<line x1="596.3" y1="278" x2="632.6" y2="278" stroke="rgba(148,150,158,0.75)" stroke-width="1.1"/>
<line x1="596.3" y1="303.5" x2="596.3" y2="331" stroke="rgba(148,150,158,0.75)" stroke-width="1.1"/>
<line x1="596.3" y1="303.5" x2="632.6" y2="303.5" stroke="rgba(148,150,158,0.75)" stroke-width="1.1"/>
<line x1="596.3" y1="331" x2="596.3" y2="355.5" stroke="rgba(148,150,158,0.75)" stroke-width="1.1"/>
<line x1="596.3" y1="331" x2="632.6" y2="331" stroke="rgba(148,150,158,0.75)" stroke-width="1.1"/>
<line x1="596.3" y1="355.5" x2="596.3" y2="380.7" stroke="rgba(148,150,158,0.75)" stroke-width="1.1"/>
<line x1="596.3" y1="355.5" x2="632.6" y2="355.5" stroke="rgba(148,150,158,0.75)" stroke-width="1.1"/>
<line x1="596.3" y1="380.7" x2="632.6" y2="380.7" stroke="rgba(148,150,158,0.75)" stroke-width="1.1"/>
<line x1="632.6" y1="253.4" x2="632.6" y2="278" stroke="rgba(148,150,158,0.75)" stroke-width="1.1"/>
<line x1="632.6" y1="278" x2="632.6" y2="303.5" stroke="rgba(148,150,158,0.75)" stroke-width="1.1"/>
<line x1="632.6" y1="278" x2="669.8" y2="278" stroke="rgba(148,150,158,0.75)" stroke-width="1.1"/>
<line x1="632.6" y1="303.5" x2="632.6" y2="331" stroke="rgba(148,150,158,0.75)" stroke-width="1.1"/>
<line x1="632.6" y1="303.5" x2="669.8" y2="303.5" stroke="rgba(148,150,158,0.75)" stroke-width="1.1"/>
<line x1="632.6" y1="331" x2="632.6" y2="355.5" stroke="rgba(148,150,158,0.75)" stroke-width="1.1"/>
<line x1="632.6" y1="331" x2="669.8" y2="331" stroke="rgba(148,150,158,0.75)" stroke-width="1.1"/>
<line x1="632.6" y1="355.5" x2="632.6" y2="380.7" stroke="rgba(148,150,158,0.75)" stroke-width="1.1"/>
<line x1="632.6" y1="355.5" x2="669.8" y2="355.5" stroke="rgba(148,150,158,0.75)" stroke-width="1.1"/>
<line x1="632.6" y1="380.7" x2="669.8" y2="380.7" stroke="rgba(148,150,158,0.75)" stroke-width="1.1"/>
<line x1="669.8" y1="278" x2="669.8" y2="303.5" stroke="rgba(148,150,158,0.75)" stroke-width="1.1"/>
<line x1="669.8" y1="303.5" x2="669.8" y2="331" stroke="rgba(148,150,158,0.75)" stroke-width="1.1"/>
<line x1="669.8" y1="303.5" x2="711" y2="303.5" stroke="rgba(148,150,158,0.75)" stroke-width="1.1"/>
<line x1="669.8" y1="331" x2="669.8" y2="355.5" stroke="rgba(148,150,158,0.75)" stroke-width="1.1"/>
<line x1="669.8" y1="331" x2="711" y2="331" stroke="rgba(148,150,158,0.75)" stroke-width="1.1"/>
<line x1="669.8" y1="355.5" x2="669.8" y2="380.7" stroke="rgba(148,150,158,0.75)" stroke-width="1.1"/>
<line x1="669.8" y1="355.5" x2="711" y2="355.5" stroke="rgba(148,150,158,0.75)" stroke-width="1.1"/>
<line x1="669.8" y1="380.7" x2="711" y2="380.7" stroke="rgba(148,150,158,0.75)" stroke-width="1.1"/>
<line x1="711" y1="303.5" x2="711" y2="331" stroke="rgba(148,150,158,0.75)" stroke-width="1.1"/>
<line x1="711" y1="331" x2="711" y2="355.5" stroke="rgba(148,150,158,0.75)" stroke-width="1.1"/>
<line x1="711" y1="355.5" x2="711" y2="380.7" stroke="rgba(148,150,158,0.75)" stroke-width="1.1"/></svg>
<div class="c" style="left:93.5px;top:125.7px;width:38.2px;height:25.8px;line-height:26.8px">155<span class="n">女</span></div>
<div class="c" style="left:130.1px;top:125.7px;width:35.3px;height:25.8px;line-height:26.8px">155<span class="n">女</span></div>
<div class="c" style="left:165.9px;top:125.7px;width:34.7px;height:25.8px;line-height:26.8px">155<span class="n">女</span></div>
<div class="c" style="left:203.9px;top:125.7px;width:37.3px;height:25.8px;line-height:26.8px">155<span class="n">女</span></div>
<div class="c" style="left:239.05px;top:125.7px;width:38.3px;height:25.8px;line-height:26.8px">160<span class="n">女</span></div>
<div class="c" style="left:276.45px;top:125.7px;width:35.1px;height:25.8px;line-height:26.8px">160<span class="n">女</span></div>
<div class="c" style="left:311.9px;top:125.7px;width:35.2px;height:25.8px;line-height:26.8px">160<span class="n">女</span></div>
<div class="c" style="left:348px;top:125.7px;width:35.3px;height:25.8px;line-height:26.8px">165<span class="n">女</span></div>
<div class="c" style="left:383.55px;top:125.7px;width:35.1px;height:25.8px;line-height:26.8px">165<span class="n">女</span></div>
<div class="r" style="left:43px;top:126.5px;height:25.8px;line-height:26.8px">155女</div>
<div class="c" style="left:93.5px;top:151.8px;width:38.2px;height:24.5px;line-height:25.5px">155<span class="n">女</span></div>
<div class="c" style="left:130.1px;top:151.8px;width:35.3px;height:24.5px;line-height:25.5px">155<span class="n">女</span></div>
<div class="c" style="left:165.9px;top:151.8px;width:34.7px;height:24.5px;line-height:25.5px">155<span class="n">女</span></div>
<div class="c" style="left:200.75px;top:151.8px;width:37.3px;height:24.5px;line-height:25.5px">160<span class="n">女</span></div>
<div class="c" style="left:236.45px;top:151.8px;width:38.3px;height:24.5px;line-height:25.5px">160<span class="n">女</span></div>
<div class="c" style="left:276.45px;top:151.8px;width:35.1px;height:24.5px;line-height:25.5px">160<span class="n">女</span></div>
<div class="c" style="left:311.9px;top:151.8px;width:35.2px;height:24.5px;line-height:25.5px">165<span class="n">女</span></div>
<div class="c" style="left:348px;top:151.8px;width:35.3px;height:24.5px;line-height:25.5px">165<span class="n">女</span></div>
<div class="c" style="left:383.55px;top:151.8px;width:35.1px;height:24.5px;line-height:25.5px">165<span class="n">女</span></div>
<div class="c" style="left:418.6px;top:151.8px;width:37.4px;height:24.5px;line-height:25.5px">165<span class="n">女</span></div>
<div class="r" style="left:43px;top:154.1px;height:24.5px;line-height:25.5px">160女</div>
<div class="c" style="left:132.7px;top:177.1px;width:35.3px;height:25.8px;line-height:26.8px">155<span class="n">女</span></div>
<div class="c" style="left:169.15px;top:177.1px;width:34.7px;height:25.8px;line-height:26.8px">155<span class="n">女</span></div>
<div class="c" style="left:203px;top:177.1px;width:37.3px;height:25.8px;line-height:26.8px">160<span class="n">女</span></div>
<div class="c" style="left:238.4px;top:177.1px;width:38.3px;height:25.8px;line-height:26.8px">160<span class="n">女</span></div>
<div class="c" style="left:279.1px;top:177.1px;width:35.1px;height:25.8px;line-height:26.8px">165<span class="n">女</span></div>
<div class="c" style="left:311.5px;top:177.1px;width:35.2px;height:25.8px;line-height:26.8px">165<span class="n">女</span></div>
<div class="c" style="left:346.5px;top:177.1px;width:35.3px;height:25.8px;line-height:26.8px">165<span class="n">女</span></div>
<div class="c" style="left:382.55px;top:177.1px;width:35.1px;height:25.8px;line-height:26.8px">165<span class="n">女</span></div>
<div class="c" style="left:420.8px;top:177.1px;width:37.4px;height:25.8px;line-height:26.8px">165<span class="n">女</span></div>
<div class="r" style="left:43px;top:177.8px;height:25.8px;line-height:26.8px">165女</div>
<div class="c" style="left:201.1px;top:201.7px;width:37.3px;height:25.5px;line-height:26.5px">160<span class="n">女</span></div>
<div class="c" style="left:236.4px;top:201.7px;width:38.3px;height:25.5px;line-height:26.5px">165</div>
<div class="c" style="left:272.8px;top:201.7px;width:35.1px;height:25.5px;line-height:26.5px">165</div>
<div class="c" style="left:310px;top:201.7px;width:35.2px;height:25.5px;line-height:26.5px">165</div>
<div class="c" style="left:347.6px;top:201.7px;width:35.3px;height:25.5px;line-height:26.5px">165</div>
<div class="c" style="left:385.5px;top:201.7px;width:35.1px;height:25.5px;line-height:26.5px">165</div>
<div class="c" style="left:418.9px;top:201.7px;width:37.4px;height:25.5px;line-height:26.5px">165</div>
<div class="c" style="left:457.8px;top:201.7px;width:35.1px;height:25.5px;line-height:26.5px">170</div>
<div class="c" style="left:495.1px;top:201.7px;width:34.9px;height:25.5px;line-height:26.5px">170</div>
<div class="r" style="left:43px;top:203.2px;height:25.5px;line-height:26.5px">160</div>
<div class="c" style="left:236.4px;top:229.9px;width:38.3px;height:25.3px;line-height:26.3px">165</div>
<div class="c" style="left:272.1px;top:229.9px;width:35.1px;height:25.3px;line-height:26.3px">165</div>
<div class="c" style="left:309.9px;top:229.9px;width:35.2px;height:25.3px;line-height:26.3px">165</div>
<div class="c" style="left:347.6px;top:229.9px;width:35.3px;height:25.3px;line-height:26.3px">165</div>
<div class="c" style="left:381.9px;top:229.9px;width:35.1px;height:25.3px;line-height:26.3px">170</div>
<div class="c" style="left:414.9px;top:229.9px;width:37.4px;height:25.3px;line-height:26.3px">170</div>
<div class="c" style="left:454.2px;top:229.9px;width:35.1px;height:25.3px;line-height:26.3px">170</div>
<div class="c" style="left:491.75px;top:229.9px;width:34.9px;height:25.3px;line-height:26.3px">175</div>
<div class="c" style="left:522.6px;top:229.9px;width:35.7px;height:25.3px;line-height:26.3px">175</div>
<div class="c" style="left:560.8px;top:229.9px;width:34.8px;height:25.3px;line-height:26.3px">175</div>
<div class="r" style="left:43px;top:228.7px;height:25.3px;line-height:26.3px">165</div>
<div class="c" style="left:236.4px;top:255.1px;width:38.3px;height:24.6px;line-height:25.6px">165</div>
<div class="c" style="left:272.1px;top:255.1px;width:35.1px;height:24.6px;line-height:25.6px">165</div>
<div class="c" style="left:309.9px;top:255.1px;width:35.2px;height:24.6px;line-height:25.6px">165</div>
<div class="c" style="left:347.6px;top:255.1px;width:35.3px;height:24.6px;line-height:25.6px">170</div>
<div class="c" style="left:381.9px;top:255.1px;width:35.1px;height:24.6px;line-height:25.6px">170</div>
<div class="c" style="left:414.9px;top:255.1px;width:37.4px;height:24.6px;line-height:25.6px">170</div>
<div class="c" style="left:454.2px;top:255.1px;width:35.1px;height:24.6px;line-height:25.6px">170</div>
<div class="c" style="left:491.75px;top:255.1px;width:34.9px;height:24.6px;line-height:25.6px">175</div>
<div class="c" style="left:522.6px;top:255.1px;width:35.7px;height:24.6px;line-height:25.6px">175</div>
<div class="c" style="left:561.5px;top:255.1px;width:34.8px;height:24.6px;line-height:25.6px">180</div>
<div class="c" style="left:594.3px;top:255.1px;width:36.3px;height:24.6px;line-height:25.6px">180</div>
<div class="r" style="left:43px;top:255.9px;height:24.6px;line-height:25.6px">170</div>
<div class="c" style="left:273.7px;top:279.5px;width:35.1px;height:25.5px;line-height:26.5px">170</div>
<div class="c" style="left:310.8px;top:279.5px;width:35.2px;height:25.5px;line-height:26.5px">170</div>
<div class="c" style="left:347.5px;top:279.5px;width:35.3px;height:25.5px;line-height:26.5px">170</div>
<div class="c" style="left:382.8px;top:279.5px;width:35.1px;height:25.5px;line-height:26.5px">170</div>
<div class="c" style="left:415.5px;top:279.5px;width:37.4px;height:25.5px;line-height:26.5px">175</div>
<div class="c" style="left:452.15px;top:279.5px;width:35.1px;height:25.5px;line-height:26.5px">175</div>
<div class="c" style="left:492.3px;top:279.5px;width:34.9px;height:25.5px;line-height:26.5px">175</div>
<div class="c" style="left:523.8px;top:279.5px;width:35.7px;height:25.5px;line-height:26.5px">175</div>
<div class="c" style="left:562px;top:279.5px;width:34.8px;height:25.5px;line-height:26.5px">180</div>
<div class="c" style="left:595.15px;top:279.5px;width:36.3px;height:25.5px;line-height:26.5px">180</div>
<div class="c" style="left:629.2px;top:279.5px;width:37.2px;height:25.5px;line-height:26.5px">185</div>
<div class="r" style="left:43px;top:280px;height:25.5px;line-height:26.5px">175</div>
<div class="c" style="left:310.8px;top:305px;width:35.2px;height:27.5px;line-height:28.5px">175</div>
<div class="c" style="left:347.5px;top:305px;width:35.3px;height:27.5px;line-height:28.5px">175</div>
<div class="c" style="left:383.1px;top:305px;width:35.1px;height:27.5px;line-height:28.5px">175</div>
<div class="c" style="left:415.5px;top:305px;width:37.4px;height:27.5px;line-height:28.5px">175</div>
<div class="c" style="left:452.15px;top:305px;width:35.1px;height:27.5px;line-height:28.5px">175</div>
<div class="c" style="left:492.3px;top:305px;width:34.9px;height:27.5px;line-height:28.5px">175</div>
<div class="c" style="left:523.8px;top:305px;width:35.7px;height:27.5px;line-height:28.5px">180</div>
<div class="c" style="left:562px;top:305px;width:34.8px;height:27.5px;line-height:28.5px">180</div>
<div class="c" style="left:595.15px;top:305px;width:36.3px;height:27.5px;line-height:28.5px">180</div>
<div class="c" style="left:629.9px;top:305px;width:37.2px;height:27.5px;line-height:28.5px">185</div>
<div class="c" style="left:668.3px;top:305px;width:41.2px;height:27.5px;line-height:28.5px">185</div>
<div class="r" style="left:43px;top:303.5px;height:27.5px;line-height:28.5px">180</div>
<div class="c" style="left:348.5px;top:332.3px;width:35.3px;height:24.5px;line-height:25.5px">175</div>
<div class="c" style="left:383.4px;top:332.3px;width:35.1px;height:24.5px;line-height:25.5px">175</div>
<div class="c" style="left:416.5px;top:332.3px;width:37.4px;height:24.5px;line-height:25.5px">180</div>
<div class="c" style="left:452.5px;top:332.3px;width:35.1px;height:24.5px;line-height:25.5px">180</div>
<div class="c" style="left:493.4px;top:332.3px;width:34.9px;height:24.5px;line-height:25.5px">180</div>
<div class="c" style="left:523.6px;top:332.3px;width:35.7px;height:24.5px;line-height:25.5px">180</div>
<div class="c" style="left:563.5px;top:332.3px;width:34.8px;height:24.5px;line-height:25.5px">180</div>
<div class="c" style="left:596.8px;top:332.3px;width:36.3px;height:24.5px;line-height:25.5px">185</div>
<div class="c" style="left:630.5px;top:332.3px;width:37.2px;height:24.5px;line-height:25.5px">185</div>
<div class="c" style="left:669.3px;top:332.3px;width:41.2px;height:24.5px;line-height:25.5px">190</div>
<div class="r" style="left:43px;top:331.9px;height:24.5px;line-height:25.5px">185</div>
<div class="c" style="left:417.45px;top:356.8px;width:37.4px;height:25.2px;line-height:26.2px">180</div>
<div class="c" style="left:453.1px;top:356.8px;width:35.1px;height:25.2px;line-height:26.2px">180</div>
<div class="c" style="left:493.9px;top:356.8px;width:34.9px;height:25.2px;line-height:26.2px">180</div>
<div class="c" style="left:524.8px;top:356.8px;width:35.7px;height:25.2px;line-height:26.2px">185</div>
<div class="c" style="left:564px;top:356.8px;width:34.8px;height:25.2px;line-height:26.2px">185</div>
<div class="c" style="left:597.45px;top:356.8px;width:36.3px;height:25.2px;line-height:26.2px">185</div>
<div class="c" style="left:630.5px;top:356.8px;width:37.2px;height:25.2px;line-height:26.2px">185</div>
<div class="c" style="left:669.3px;top:356.8px;width:41.2px;height:25.2px;line-height:26.2px">190</div>
<div class="r" style="left:43px;top:356.2px;height:25.2px;line-height:26.2px">190</div>
<div class="h" style="left:94.9px;top:74.5px;width:38.2px;height:52px;line-height:47.6px">40</div>
<div class="h" style="left:131.6px;top:74.5px;width:35.3px;height:52px;line-height:47.6px">45</div>
<div class="h" style="left:167.4px;top:74.5px;width:34.7px;height:52px;line-height:47.6px">50</div>
<div class="h" style="left:204.1px;top:74.5px;width:37.3px;height:52px;line-height:47.6px">52.5</div>
<div class="h" style="left:240.65px;top:74.5px;width:38.3px;height:52px;line-height:47.6px">55</div>
<div class="h" style="left:279.2px;top:74.5px;width:35.1px;height:52px;line-height:47.6px">57.5</div>
<div class="h" style="left:312.2px;top:74.5px;width:35.2px;height:52px;line-height:47.6px">60</div>
<div class="h" style="left:347px;top:74.5px;width:35.3px;height:52px;line-height:47.6px">62.5</div>
<div class="h" style="left:384px;top:74.5px;width:35.1px;height:52px;line-height:47.6px">65</div>
<div class="h" style="left:416.3px;top:74.5px;width:37.4px;height:52px;line-height:47.6px">67.5</div>
<div class="h" style="left:455.5px;top:74.5px;width:35.1px;height:52px;line-height:47.6px">70</div>
<div class="h" style="left:489.45px;top:74.5px;width:34.9px;height:52px;line-height:47.6px">72.5</div>
<div class="h" style="left:525.8px;top:74.5px;width:35.7px;height:52px;line-height:47.6px">75</div>
<div class="h" style="left:561.8px;top:74.5px;width:34.8px;height:52px;line-height:47.6px">80</div>
<div class="h" style="left:596.6px;top:74.5px;width:36.3px;height:52px;line-height:47.6px">85</div>
<div class="h" style="left:631.9px;top:74.5px;width:37.2px;height:52px;line-height:47.6px">90</div>
<div class="h" style="left:668.7px;top:74.5px;width:41.2px;height:52px;line-height:47.6px">95</div>
<div class="lab" style="left:62px;top:82.3px;-webkit-text-stroke:0.3px #555">体重</div>
<div class="lab" style="left:62px;top:95px;word-spacing:0.4px;font-size:12px">( kg )</div>
<div class="lab" style="left:17px;top:100.3px;-webkit-text-stroke:0.3px #555">身高</div>
<div class="lab" style="left:17px;top:112px;word-spacing:0.4px;font-size:12px">( cm )</div>
</body></html>
